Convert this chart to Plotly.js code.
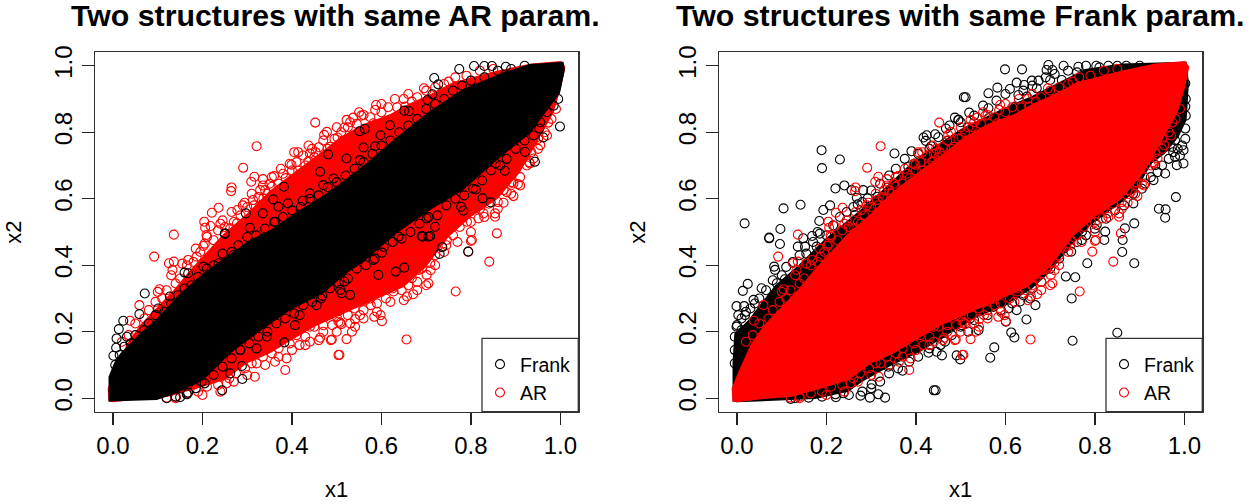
<!DOCTYPE html>
<html><head><meta charset="utf-8">
<script src="https://cdn.plot.ly/plotly-3.0.1.min.js"></script>
<style>html,body{margin:0;padding:0;background:#fff}#c{width:1250px;height:504px}</style>
</head><body><div id="c"></div>
<script>
const tickVals=[0,0.2,0.4,0.6,0.8,1];
const tickText=["0.0","0.2","0.4","0.6","0.8","1.0"];
const titleLeft="Two structures with same AR param.";
const titleRight="Two structures with same Frank param.";

// individually readable AR points (same sample in both panels)
const arPoints=[[.452,.829],[.478,.801],[.472,.792],[.502,.784],[.321,.758],[.437,.760],[.405,.740],[.414,.740],[.453,.740],[.437,.713],[.399,.702],[.291,.693],[.316,.666],[.309,.651],[.335,.659],[.360,.668],[.265,.634],[.264,.623],[.386,.662],[.414,.684],[.236,.573],[.221,.558],[.294,.588],[.278,.566],[.204,.531],[.206,.513],[.218,.518],[.240,.525],[.136,.492],[.313,.596],[.340,.626],[.355,.636],[.396,.596],
[.336,.601],[.366,.616],[.329,.576],[.277,.526],[.262,.511],[.306,.536],[.396,.646],[.426,.676],[.463,.706],[.485,.756],[.440,.736],[.329,.626],
[.695,.932],[.588,.882],[.586,.867],[.560,.852],[.522,.837],[.537,.844],[.517,.814],[.582,.827],[.668,.892],[.653,.877],[.750,.952],[.858,.496],[.802,.476],[.895,.608],[.905,.644],[.955,.761],[.940,.721],[.932,.706],[.973,.829],[.873,.588],[.873,.626],[.845,.638],[.854,.556],[.854,.546],[.828,.556],[.817,.541],[.791,.531],[.742,.521],[.755,.549],[.895,.646],[.709,.501],[.731,.488],
[.800,.473],[.841,.411],[.794,.441],[.766,.321],[.656,.177],[.506,.131],[.522,.178],[.489,.177],[.534,.200],[.541,.215],[.552,.250],[.541,.238],[.508,.227],[.510,.223],[.584,.245],[.598,.250],[.601,.232],[.504,.262],[.576,.280],[.563,.294],[.597,.326],[.627,.321],[.657,.306],[.671,.313],[.705,.346],[.701,.371],[.668,.361],[.627,.346],[.709,.406],[.683,.386],[.746,.476],[.735,.456],[.724,.491],
[.092,.426],[.125,.406],[.136,.411],[.133,.386],[.059,.280],[.038,.233],[.104,.328],[.168,.416],[.187,.426],[.202,.458],[.209,.491],[.254,.045],[.317,.065],[.362,.110],[.385,.085],[.388,.120],[.417,.160],[.440,.170],[.463,.182],[.487,.175],[.504,.130],[.470,.220],[.504,.230],[.440,.215],[.321,.105]];
// rings crowding the edge of the dense AR band
const arFringe=[[.02,.17],[.035,.19],[.05,.225],[.07,.24],[.08,.265],[.095,.29],[.11,.30],[.12,.325],[.14,.345],[.15,.36],[.165,.40],[.18,.41],[.195,.44],[.205,.465],[.225,.475],[.235,.505],[.25,.515],[.27,.53],[.285,.55],[.30,.575],[.315,.58],[.325,.605],[.345,.615],[.35,.645],[.37,.645],[.38,.675],[.40,.685],[.41,.71],[.43,.70],[.45,.725],[.46,.755],[.48,.75],[.495,.78],[.51,.80],[.525,.815],[.545,.825],[.555,.85],[.575,.845],[.60,.86],[.615,.875],[.635,.875],[.65,.90],[.68,.905],[.70,.925],[.72,.935],[.74,.945],[.765,.965],[.79,.97],[.82,.985],[.85,.99],
[.99,.87],[.98,.84],[.965,.80],[.95,.78],[.935,.74],[.925,.70],[.91,.665],[.89,.65],[.88,.62],[.86,.59],[.84,.585],[.82,.57],[.80,.53],[.775,.515],[.76,.49],[.745,.46],[.72,.43],[.71,.385],[.69,.39],[.68,.35],[.66,.34],[.645,.325],[.625,.33],[.61,.30],[.59,.285],[.575,.30],[.56,.265],[.54,.27],[.525,.25],[.50,.245],[.49,.22],[.47,.20],[.45,.215],[.43,.185],[.41,.19],[.395,.165],[.37,.15],[.355,.135],[.335,.125],[.31,.105],[.295,.09],[.275,.075],[.26,.06],[.235,.04],[.21,.035],[.19,.02],[.165,.015],[.14,.005],[.12,.002],
[.10,.32],[.13,.37],[.155,.405],[.185,.45],[.21,.485],[.245,.535],[.265,.56],[.29,.58],[.31,.615],[.335,.64],[.355,.665],[.375,.69],[.395,.705],[.425,.73],[.445,.75],[.47,.775],[.50,.815],[.53,.83],[.55,.86],[.60,.885],[.63,.90],[.66,.915],
[.14,0],[.20,.01],[.24,.02],[.27,.05],[.30,.07],[.34,.10],[.37,.125],[.40,.145],[.43,.16],[.46,.175],[.50,.20],[.53,.225],[.56,.24],[.59,.26],[.62,.29],[.65,.295],[.68,.325],[.70,.34],[.72,.40],[.74,.44],[.77,.47],[.80,.50],[.83,.545],[.86,.57],[.89,.615],[.91,.64],[.93,.71],[.95,.75],[.97,.79]];

// Frank points, left panel
const frankLeftPoints=[[.774,.990],[.807,.999],[.830,.999],[.847,.999],[.878,.997],[.718,.963],[.727,.944],[.714,.914],[.703,.897],[.651,.865],[.662,.863],[.563,.810],[.551,.803],[.598,.791],[.619,.821],[.586,.758],[.560,.754],[.522,.721],[.552,.716],
[.999,.817],[.962,.784],[.953,.811],[.943,.711],[.921,.741],[.876,.684],[.855,.706],[.844,.589],[.826,.601],[.811,.628],[.783,.564],[.778,.576],[.720,.516],[.701,.541],[.690,.488],[.709,.488],
[.730,.434],[.736,.454],[.705,.486],[.692,.486],[.651,.393],[.632,.381],[.593,.371],[.530,.311],[.511,.316],[.508,.326],[.517,.351],[.582,.416],[.601,.438],[.638,.486],[.794,.441],
[.071,.315],[.059,.253],[.023,.233],[.013,.208],[.008,.180],[.007,.152],[.001,.128],[.031,.185],[.101,.270],[.127,.306],[.160,.378],[.168,.376],[.202,.396],[.236,.406],[.250,.494],[.269,.431],[.289,.058],[.244,.024],[.150,.003],[.168,.017],[.198,.050],[.262,.075],[.288,.097],[.321,.150],[.284,.145],[.383,.168],[.344,.185],[.407,.220],[.417,.250],[.455,.280],[.468,.308],
[.481,.733],[.463,.681],[.382,.636],[.358,.598],[.370,.576],[.391,.586],[.424,.594],[.440,.616],[.297,.556],[.335,.556],[.306,.513],[.250,.496],[.362,.531],[.493,.661],[.470,.641]];
const frankLeftFringe=[[.005,.10],[.015,.13],[.025,.155],[.04,.165],[.05,.19],[.07,.205],[.08,.225],[.095,.25],[.115,.26],[.13,.285],[.145,.31],[.16,.33],[.175,.34],[.19,.365],[.21,.39],[.225,.40],[.245,.435],[.265,.44],[.28,.46],[.30,.485],[.32,.49],[.34,.51],[.36,.53],[.38,.545],[.40,.565],[.42,.575],[.44,.60],[.46,.61],[.48,.635],[.50,.65],[.52,.67],[.54,.69],[.56,.71],[.58,.735],[.60,.76],[.62,.775],[.64,.80],[.66,.82],[.68,.84],[.70,.87],[.72,.885],[.74,.90],[.76,.925],[.78,.94],[.80,.955],[.83,.965],[.86,.985],[.89,.99],[.92,1.0],
[.995,.90],[.985,.88],[.97,.86],[.955,.83],[.94,.79],[.92,.775],[.90,.75],[.88,.72],[.865,.70],[.845,.685],[.825,.655],[.805,.63],[.785,.61],[.765,.60],[.745,.58],[.725,.55],[.705,.545],[.685,.525],[.665,.50],[.645,.48],[.625,.47],[.605,.455],[.585,.42],[.565,.40],[.545,.39],[.525,.36],[.505,.345],[.485,.33],[.465,.30],[.445,.29],[.425,.28],[.405,.255],[.385,.24],[.365,.225],[.345,.20],[.325,.185],[.305,.165],[.285,.145],[.265,.12],[.245,.095],[.225,.07],[.205,.045],[.185,.03],[.165,.012],[.14,.005],[.12,0]];

// Frank points, right panel
const frankRightPoints=[[.507,.905],[.487,.844],[.495,.837],[.467,.811],[.471,.774],[.443,.794],[.424,.791],[.417,.784],[.422,.774],[.434,.758],[.390,.743],[.352,.736],[.189,.746],[.230,.718],[.190,.692],[.383,.696],[.398,.706],[.240,.640],[.220,.631],[.282,.626],[.256,.626],[.268,.603],[.270,.583],[.142,.582],[.104,.571],[.208,.580],[.193,.566],[.264,.551],[.017,.526],[.097,.509],[.184,.533],[.180,.500],[.168,.488],[.072,.483],[.148,.481],[.292,.601],[.314,.606],[.337,.634],
[.599,.989],[.637,.989],[.696,1.002],[.692,.987],[.705,.987],[.730,1.000],[.763,.997],[.803,1.000],[.830,1.000],[.582,.934],[.562,.917],[.511,.905],[.625,.949],[.642,.942],[.659,.955],[.674,.955],[.629,.912],[.648,.907],[.670,.932],[.700,.957],[.726,.957],[.562,.872],[.519,.859],[.495,.837],[.562,.842],[.516,.814],[.666,.892],[.622,.877],
[.981,.605],[.943,.570],[.958,.568],[.957,.543],[.888,.526],[.867,.511],[.804,.521],[.823,.501],[.771,.501],[.741,.501],[.998,.706],[.983,.701],[.957,.676],[.931,.656],[.935,.701],[.998,.746],[.979,.726],[.886,.586],[.912,.646],[1.002,.811],[.979,.776],[1.002,.877],[.994,.917],[1.002,.947],[.964,.806],[.957,.756],[.972,.756],
[.072,.481],[.096,.464],[.136,.456],[.152,.456],[.178,.456],[.083,.396],[.085,.386],[.024,.344],[.013,.323],[.055,.331],[.037,.296],[-.001,.277],[.016,.277],[.003,.250],[.018,.250],[.089,.346],[.107,.358],[.130,.356],[-.005,.185],[-.005,.145],[-.001,.215],[-.005,.105],[.010,.205],[.444,.024],[.440,.024],[.316,.012],[.331,.002],[.297,.002],[.276,.008],[.301,.042],[.221,.003],[.238,.015],[.212,.025],[.279,.075],[.428,.137],[.458,.129],[.446,.140],[.491,.129],[.370,.083],[.338,.095],[.465,.170],[.130,.000],[.182,.015],[.502,.265],
[.850,.197],[.750,.173],[.620,.183],[.613,.198],[.575,.153],[.566,.122],[.499,.117],[.647,.237],[.601,.230],[.625,.265],[.667,.280],[.748,.300],[.735,.366],[.756,.364],[.783,.406],[.888,.406],[.861,.440],[.862,.476],[.821,.476],[.771,.476],[.747,.441],[.607,.270],[.573,.275],[.599,.300],[.540,.205],[.517,.200],[.502,.220],[.521,.240],[.633,.291],[.655,.300]];
const frankRightFringe=[[0,.22],[.01,.24],[.02,.26],[.03,.27],[.04,.285],[.05,.30],[.065,.325],[.08,.355],[.10,.37],[.11,.395],[.125,.41],[.14,.43],[.155,.435],[.17,.47],[.185,.495],[.20,.49],[.215,.52],[.23,.545],[.245,.56],[.26,.575],[.28,.59],[.30,.625],[.32,.645],[.34,.67],[.355,.69],[.375,.72],[.405,.735],[.43,.75],[.45,.785],[.475,.82],[.50,.83],[.53,.85],[.55,.88],[.58,.895],[.60,.915],[.61,.93],[.64,.925],[.66,.94],[.69,.965],[.71,.975],[.74,.985],[.76,.98],[.78,1.0],[.81,.995],[.85,1.0],[.87,1.0],[.9,1.0],
[1.003,.90],[1.003,.85],[1.002,.78],[.995,.76],[.99,.73],[.985,.75],[.975,.74],[.965,.72],[.95,.70],[.94,.68],[.925,.665],[.905,.63],[.885,.615],[.865,.58],[.845,.565],[.825,.54],[.80,.51],[.78,.49],[.76,.47],[.73,.45],[.72,.42],[.70,.39],[.68,.35],[.66,.33],[.64,.31],[.615,.285],[.59,.265],[.56,.25],[.53,.235],[.50,.215],[.48,.19],[.455,.16],[.43,.15],[.405,.125],[.385,.11],[.36,.09],[.34,.075],[.32,.05],[.30,.03],[.28,.02],[.25,.01],[.22,.012],[.19,.005],[.16,.002],[.12,-.002]];

// outlines of the regions too dense to show single rings
const arBand=[[-.01,-.01],[-.012,.03],[.003,.08],[.03,.16],[.06,.22],[.10,.275],[.135,.325],[.172,.385],[.209,.44],[.247,.495],[.299,.555],[.351,.625],[.41,.685],[.47,.745],[.507,.785],[.56,.825],[.62,.855],[.66,.885],[.71,.915],[.76,.95],[.858,.985],[.935,1.007],[1.002,1.014],[1.011,.997],[1.002,.937],[.985,.86],[.95,.775],[.91,.68],[.86,.60],[.80,.545],[.75,.485],[.70,.395],[.65,.335],[.60,.305],[.55,.275],[.50,.245],[.45,.215],[.40,.175],[.35,.135],[.30,.105],[.25,.055],[.19,.03],[.12,.004],[.06,-.002],[0,-.012]];
const frankBandLeft=[[-.010,-.010],[-.010,.065],[.002,.105],[.016,.135],[.06,.195],[.098,.24],[.15,.316],[.202,.376],[.247,.42],[.306,.476],[.351,.506],[.41,.56],[.47,.61],[.507,.645],[.56,.70],[.634,.785],[.709,.865],[.783,.93],[.873,.98],[.932,1.005],[1.007,1.012],[1.01,.987],[.999,.917],[.932,.796],[.858,.716],[.783,.626],[.709,.566],[.634,.496],[.56,.41],[.522,.376],[.47,.316],[.396,.265],[.321,.195],[.262,.135],[.202,.055],[.142,.015],[.098,-.005],[-.007,-.010]];
const frankBandRight=[[-.01,-.01],[-.01,.105],[-.006,.195],[.025,.235],[.085,.340],[.137,.40],[.197,.48],[.27,.56],[.32,.62],[.40,.72],[.50,.81],[.6,.875],[.66,.91],[.72,.95],[.778,.99],[.86,1.007],[1.005,1.012],[1.01,.947],[1.005,.837],[.987,.786],[.957,.736],[.927,.706],[.89,.62],[.84,.57],[.79,.52],[.74,.45],[.70,.38],[.66,.33],[.6,.28],[.53,.24],[.47,.19],[.41,.14],[.34,.095],[.28,.05],[.249,.02],[.174,-.002],[0,-.012]];

const RED="#ff0000", BLK="#000000";
const col=(a,i)=>a.map(p=>p[i]);
function band(pts,color,ax){return {type:"scatter",mode:"lines",x:col(pts,0),y:col(pts,1),xaxis:ax[0],yaxis:ax[1],fill:"toself",fillcolor:color,line:{width:0},showlegend:false,hoverinfo:"skip"};}
function rings(pts,color,name,ax,leg,rank){return {type:"scatter",mode:"markers",name:name,x:col(pts,0),y:col(pts,1),xaxis:ax[0],yaxis:ax[1],legend:leg,legendrank:rank,marker:{symbol:"circle-open",size:9,color:color,line:{width:1.1,color:color}}};}
const A1=["x","y"],A2=["x2","y2"];
const arAll=arPoints.concat(arFringe);
const data=[
 band(arBand,RED,A1), rings(arAll,RED,"AR",A1,"legend",2),
 band(frankBandLeft,BLK,A1), rings(frankLeftPoints.concat(frankLeftFringe),BLK,"Frank",A1,"legend",1),
 band(frankBandRight,BLK,A2), rings(frankRightPoints.concat(frankRightFringe),BLK,"Frank",A2,"legend2",1),
 band(arBand,RED,A2), rings(arAll,RED,"AR",A2,"legend2",2)
];
const W=1250,H=504;
const F='"Liberation Sans",Arial,sans-serif';
const tickF={family:F,size:24,color:"#000"};
function xa(l,r,anchor){return {domain:[l/W,r/W],anchor:anchor,range:[-.04,1.04],tickmode:"array",tickvals:tickVals,ticktext:tickText,ticks:"outside",ticklen:12,tickwidth:1.3,tickcolor:"#222",showgrid:false,zeroline:false,showline:true,mirror:true,linecolor:"#333",linewidth:1.3,tickfont:tickF,title:{text:"x1",font:{family:F,size:22,color:"#000"},standoff:24}};}
function ya(anchor){return {domain:[1-411.6/H,1-52.4/H],anchor:anchor,range:[-.04,1.04],tickmode:"array",tickvals:tickVals,ticktext:tickText,tickangle:-90,ticks:"outside",ticklen:12,tickwidth:1.3,tickcolor:"#222",showgrid:false,zeroline:false,showline:true,mirror:true,linecolor:"#333",linewidth:1.3,tickfont:tickF,title:{text:"x2",font:{family:F,size:22,color:"#000"},standoff:22}};}
function boxShape(x0,x1){return {type:"rect",xref:"paper",yref:"paper",x0:x0/W,x1:x1/W,y0:1-411.6/H,y1:1-338.3/H,fillcolor:"#fff",line:{color:"#333",width:1.3},layer:"above"};}
function legendAt(x){return {x:x/W,y:1-345/H,xanchor:"left",yanchor:"top",bgcolor:"rgba(0,0,0,0)",borderwidth:0,font:{family:F,size:19.5,color:"#000"},itemwidth:30,tracegroupgap:0};}
function titleAt(x,t){return {text:"<b>"+t+"</b>",xref:"paper",yref:"paper",x:x/W,y:1-15/H,xanchor:"center",yanchor:"middle",showarrow:false,font:{family:F,size:30.3,color:"#000"}};}
const layout={width:W,height:H,margin:{l:0,r:0,t:0,b:0},paper_bgcolor:"#fff",plot_bgcolor:"#fff",showlegend:true,
 xaxis:xa(95.1,578.3,"y"),yaxis:ya("x"),xaxis2:xa(719.1,1202.3,"y2"),yaxis2:ya("x2"),
 legend:legendAt(480),legend2:legendAt(1104),
 shapes:[boxShape(482,578.3),boxShape(1106,1202.3)],
 annotations:[titleAt(335,titleLeft),titleAt(960.5,titleRight)]};
Plotly.newPlot("c",data,layout,{displayModeBar:false,staticPlot:true});
</script></body></html>
